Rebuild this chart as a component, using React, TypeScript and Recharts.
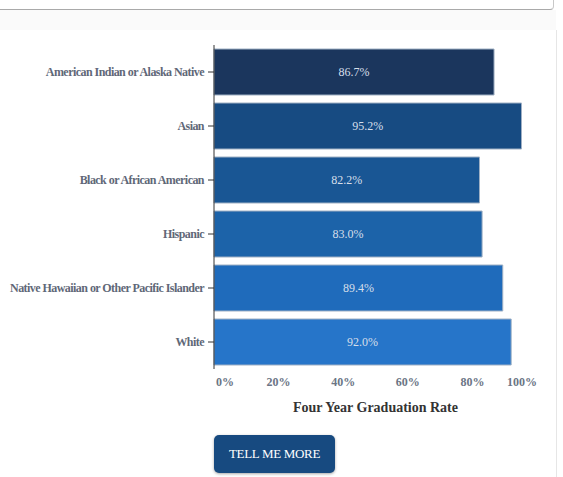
import { Bar, BarChart, Cell, LabelList, XAxis, YAxis } from "recharts";

const groups = [
  "American Indian or Alaska Native",
  "Asian",
  "Black or African American",
  "Hispanic",
  "Native Hawaiian or Other Pacific Islander",
  "White",
];
const rates = [86.7, 95.2, 82.2, 83.0, 89.4, 92.0];
const barColors = ["#1b365d", "#174b82", "#195694", "#1c63a9", "#1f6bbb", "#2675c9"];
const xTicks = [0, 20, 40, 60, 80, 100];

const rows = groups.map((g, i) => ({ group: g, rate: rates[i] }));

const SERIF = '"Liberation Serif", "Times New Roman", serif';

function XTick(props: any) {
  const { x, y, payload, index } = props;
  const anchor = index === 0 ? "start" : index === xTicks.length - 1 ? "end" : "middle";
  return (
    <text
      x={index === 0 ? x + 2 : x}
      y={y}
      dy="0.71em"
      textAnchor={anchor}
      fill="#6b7585"
      fontSize={12}
      fontWeight="bold"
      fontFamily={SERIF}
    >
      {`${payload.value}%`}
    </text>
  );
}

function YTick(props: any) {
  const { x, y, payload } = props;
  return (
    <text
      x={x}
      y={y}
      dy="0.355em"
      textAnchor="end"
      fill="#5f6878"
      fontSize={12}
      fontWeight="bold"
      fontFamily={SERIF}
      letterSpacing={-0.55}
    >
      {payload.value}
    </text>
  );
}

export default function App() {
  return (
    <div
      style={{
        position: "absolute",
        left: 0,
        top: 0,
        width: 563,
        height: 477,
        overflow: "hidden",
        background: "#fff",
        fontFamily: SERIF,
      }}
    >
      <div
        style={{
          position: "absolute",
          left: -10,
          top: -20,
          width: 563,
          height: 29,
          borderBottom: "1px solid #a9a9a9",
          borderRight: "1px solid #c8c8c8",
          borderBottomRightRadius: 4,
        }}
      />
      <div
        style={{
          position: "absolute",
          left: 0,
          top: 10,
          width: 556,
          height: 20,
          background: "#fafafa",
        }}
      />
      <div
        style={{
          position: "absolute",
          left: -10,
          top: 30,
          width: 566,
          height: 460,
          borderRight: "1px solid #e6e6e6",
        }}
      />
      <div style={{ position: "absolute", left: 0, top: 0 }}>
        <BarChart
          width={563}
          height={420}
          data={rows}
          layout="vertical"
          margin={{ top: 45, right: 26, left: 0, bottom: 0 }}
          barCategoryGap={4}
        >
          <XAxis
            type="number"
            domain={[0, 100]}
            ticks={xTicks}
            axisLine={false}
            tickLine={false}
            height={51}
            tick={<XTick />}
            label={{
              value: "Four Year Graduation Rate",
              position: "insideBottom",
              offset: 8,
              fill: "#333",
              fontSize: 14,
              fontWeight: "bold",
              fontFamily: SERIF,
            }}
          />
          <YAxis
            type="category"
            dataKey="group"
            width={214}
            stroke="#333"
            tickMargin={4}
            tick={<YTick />}
          />
          <Bar dataKey="rate" isAnimationActive={false} stroke="#9fb0c4" strokeWidth={1}>
            {rows.map((r, i) => (
              <Cell key={r.group} fill={barColors[i]} />
            ))}
            <LabelList
              dataKey="rate"
              position="center"
              formatter={(v: any) => `${Number(v).toFixed(1)}%`}
              fill="#d6dfea"
              fontSize={12}
              fontFamily={SERIF}
            />
          </Bar>
        </BarChart>
      </div>
      <div
        style={{
          position: "absolute",
          left: 214,
          top: 435,
          width: 121,
          height: 38,
          background: "#174a80",
          borderRadius: 5,
          boxShadow: "0 1px 3px rgba(0,0,0,0.35)",
          color: "#fff",
          fontSize: 13,
          letterSpacing: -0.3,
          display: "flex",
          alignItems: "center",
          justifyContent: "center",
        }}
      >
        TELL ME MORE
      </div>
    </div>
  );
}
